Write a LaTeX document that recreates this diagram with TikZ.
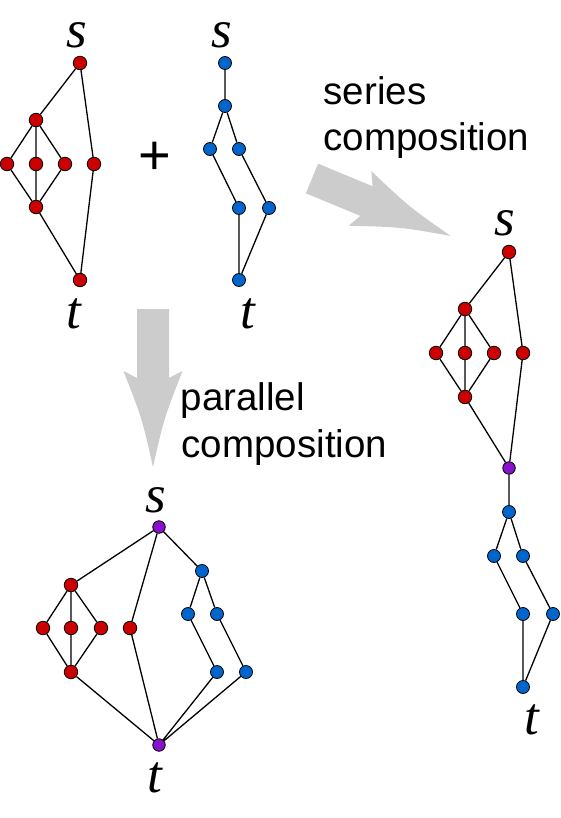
\documentclass[tikz,border=0pt]{standalone}
\usepackage{fontspec}
\setmainfont{Liberation Sans}
\newfontfamily\serifit{Liberation Serif}
\definecolor{myred}{RGB}{204,0,0}
\definecolor{myblue}{RGB}{0,102,204}
\definecolor{mypurple}{RGB}{136,17,204}
\definecolor{arrowgray}{RGB}{204,204,204}
\tikzset{
  v/.style={circle, draw=black, line width=0.8pt, inner sep=0pt, minimum size=13.5pt},
  rv/.style={v, fill=myred},
  bv/.style={v, fill=myblue, minimum size=13pt},
  pv/.style={v, fill=mypurple, minimum size=12.5pt},
  e/.style={line width=1.3pt},
  lab/.style={font=\fontsize{53}{53}\selectfont\serifit\itshape, inner sep=0pt, anchor=base},
  captext/.style={font=\fontsize{38.5}{44}\selectfont, inner sep=0pt, anchor=base west},
  bigarrow/.style={fill=arrowgray, draw=none},
}
\begin{document}
\begin{tikzpicture}[x=1pt,y=-1pt]
\useasboundingbox (0,0) rectangle (560,818);
\fill[white] (0,0) rectangle (560,818);

% big gray arrows
\fill[bigarrow] (318.1,163.7) -- (372.6,186.3) -- (371.3,171.1)
  .. controls (409.5,207.2) .. (450.6,235.9)
  .. controls (401.2,227.1) .. (348.7,225.7) -- (360.4,215.9) -- (305.9,193.3) -- cycle;
\fill[bigarrow] (137,309) -- (137,378) -- (123.5,371)
  .. controls (142.2,419) .. (153,467)
  .. controls (163.8,419) .. (182.5,371) -- (169,378) -- (169,309) -- cycle;

% captions
\node[captext] (ser1) at (323.5,105) {series};
\node[captext] (ser2) at (323.5,150.7) {composition};
\node[captext] (par1) at (180.5,410) {parallel};
\node[captext] (par2) at (181.5,457) {composition};
\node[font=\fontsize{56}{56}\selectfont, inner sep=0pt] (plus) at (155,158) {+};

% ---- top-left red graph
\node[rv] (As) at (80,63) {};
\node[rv] (Aa) at (36,120) {};
\node[rv] (Ar1) at (7,164) {};
\node[rv] (Ar2) at (36,164) {};
\node[rv] (Ar3) at (65,164) {};
\node[rv] (Ar4) at (94,164) {};
\node[rv] (Ab) at (36,207) {};
\node[rv] (At) at (80,280) {};
\draw[e] (As) -- (Aa) (As) -- (Ar4) (Aa) -- (Ar1) (Aa) -- (Ar2) (Aa) -- (Ar3)
  (Ar1) -- (Ab) (Ar2) -- (Ab) (Ar3) -- (Ab) (Ab) -- (At) (Ar4) -- (At);
\node[lab] (Asl) at (77,48) {s};
\node[lab] (Atl) at (74,328) {t};

% ---- top blue graph
\node[bv] (Bs) at (225,63) {};
\node[bv] (B1) at (225,106) {};
\node[bv] (Bc1) at (210,149) {};
\node[bv] (Bc2) at (239,149) {};
\node[bv] (Bd1) at (239,208) {};
\node[bv] (Bd2) at (269,208) {};
\node[bv] (Bt) at (239,280) {};
\draw[e] (Bs) -- (B1) (B1) -- (Bc1) (B1) -- (Bc2) (Bc1) -- (Bd1) (Bc2) -- (Bd2)
  (Bd1) -- (Bt) (Bd2) -- (Bt);
\node[lab] (Bsl) at (222,48) {s};
\node[lab] (Btl) at (248,328) {t};

% ---- right series graph
\node[rv] (Cs) at (509,252) {};
\node[rv] (Ca) at (465,309) {};
\node[rv] (Cr1) at (436,353) {};
\node[rv] (Cr2) at (465,353) {};
\node[rv] (Cr3) at (494,353) {};
\node[rv] (Cr4) at (523,353) {};
\node[rv] (Cb) at (465,397) {};
\node[pv] (Cm) at (509,468) {};
\node[bv] (C1) at (509,512) {};
\node[bv] (Cc1) at (494,556) {};
\node[bv] (Cc2) at (523,556) {};
\node[bv] (Cd1) at (523,614) {};
\node[bv] (Cd2) at (553,614) {};
\node[bv] (Ct) at (523,687) {};
\draw[e] (Cs) -- (Ca) (Cs) -- (Cr4) (Ca) -- (Cr1) (Ca) -- (Cr2) (Ca) -- (Cr3)
  (Cr1) -- (Cb) (Cr2) -- (Cb) (Cr3) -- (Cb) (Cb) -- (Cm) (Cr4) -- (Cm)
  (Cm) -- (C1) (C1) -- (Cc1) (C1) -- (Cc2) (Cc1) -- (Cd1) (Cc2) -- (Cd2)
  (Cd1) -- (Ct) (Cd2) -- (Ct);
\node[lab] (Csl) at (505,236) {s};
\node[lab] (Ctl) at (532,734) {t};

% ---- bottom parallel graph
\node[pv] (Ds) at (159,527) {};
\node[rv] (Da) at (71,585) {};
\node[rv] (Dr1) at (43,628) {};
\node[rv] (Dr2) at (71,628) {};
\node[rv] (Dr3) at (101,628) {};
\node[rv] (Dr4) at (130,628) {};
\node[rv] (Db) at (71,672) {};
\node[bv] (D1) at (202,571) {};
\node[bv] (Dc1) at (188,614) {};
\node[bv] (Dc2) at (217,614) {};
\node[bv] (Dd1) at (217,672) {};
\node[bv] (Dd2) at (246,672) {};
\node[pv] (Dt) at (159,745) {};
\draw[e] (Ds) -- (Da) (Ds) -- (Dr4) (Ds) -- (D1)
  (Da) -- (Dr1) (Da) -- (Dr2) (Da) -- (Dr3)
  (Dr1) -- (Db) (Dr2) -- (Db) (Dr3) -- (Db) (Db) -- (Dt) (Dr4) -- (Dt)
  (D1) -- (Dc1) (D1) -- (Dc2) (Dc1) -- (Dd1) (Dc2) -- (Dd2)
  (Dd1) -- (Dt) (Dd2) -- (Dt);
\node[lab] (Dsl) at (156,512) {s};
\node[lab] (Dtl) at (155,792) {t};
\end{tikzpicture}
\end{document}
